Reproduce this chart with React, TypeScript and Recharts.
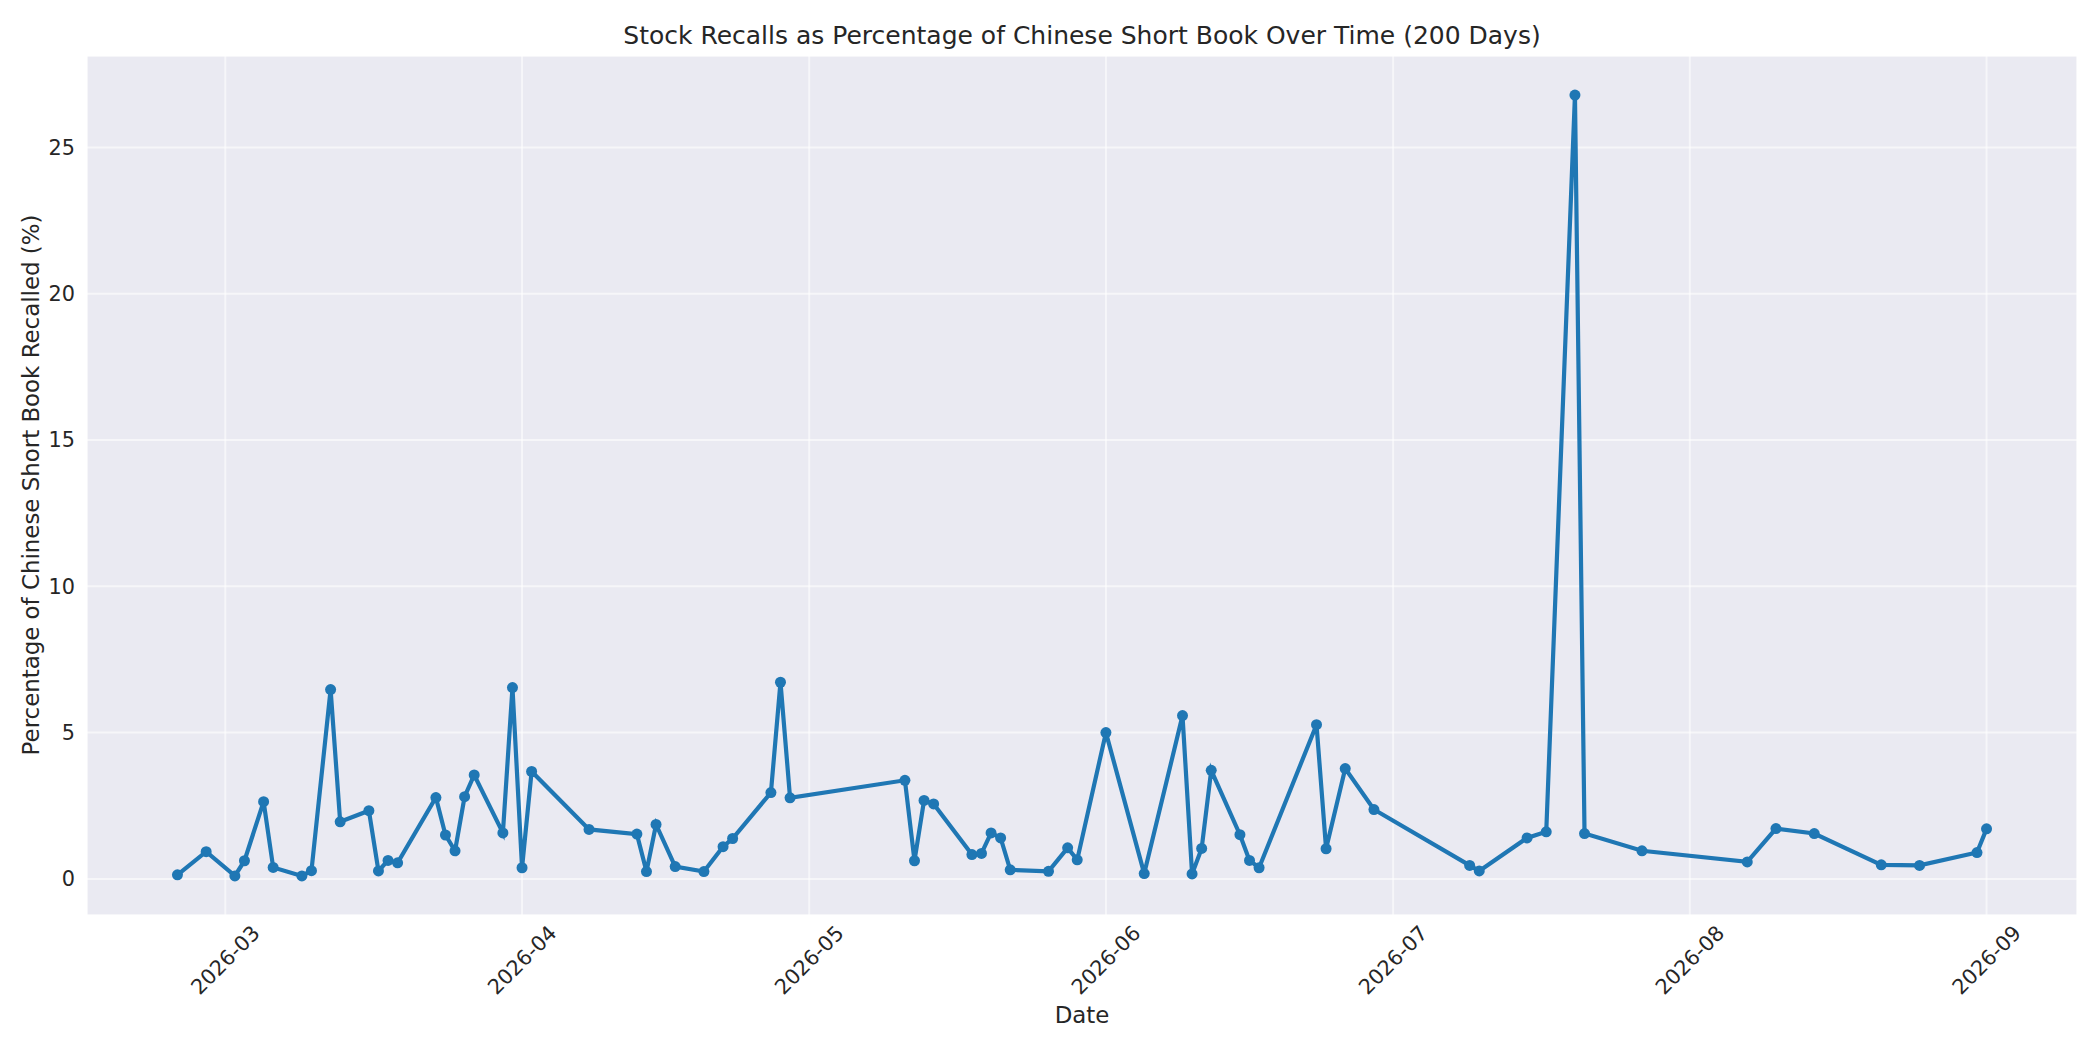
import React from 'react';
import { LineChart, Line, XAxis, YAxis, CartesianGrid } from 'recharts';

const dates = [
  '2026-02-24', '2026-02-27', '2026-03-02', '2026-03-03', '2026-03-05', '2026-03-06',
  '2026-03-09', '2026-03-10', '2026-03-12', '2026-03-13', '2026-03-16', '2026-03-17',
  '2026-03-18', '2026-03-19', '2026-03-23', '2026-03-24', '2026-03-25', '2026-03-26',
  '2026-03-27', '2026-03-30', '2026-03-31', '2026-04-01', '2026-04-02', '2026-04-08',
  '2026-04-13', '2026-04-14', '2026-04-15', '2026-04-17', '2026-04-20', '2026-04-22',
  '2026-04-23', '2026-04-27', '2026-04-28', '2026-04-29', '2026-05-11', '2026-05-12',
  '2026-05-13', '2026-05-14', '2026-05-18', '2026-05-19', '2026-05-20', '2026-05-21',
  '2026-05-22', '2026-05-26', '2026-05-28', '2026-05-29', '2026-06-01', '2026-06-05',
  '2026-06-09', '2026-06-10', '2026-06-11', '2026-06-12', '2026-06-15', '2026-06-16',
  '2026-06-17', '2026-06-23', '2026-06-24', '2026-06-26', '2026-06-29', '2026-07-09',
  '2026-07-10', '2026-07-15', '2026-07-17', '2026-07-20', '2026-07-21', '2026-07-27',
  '2026-08-07', '2026-08-10', '2026-08-14', '2026-08-21', '2026-08-25', '2026-08-31',
  '2026-09-01',
];

const recallPct = [
  0.14, 0.93, 0.10, 0.62, 2.64, 0.39,
  0.10, 0.28, 6.47, 1.95, 2.33, 0.27,
  0.63, 0.55, 2.78, 1.50, 0.96, 2.81,
  3.55, 1.57, 6.54, 0.38, 3.67, 1.69,
  1.53, 0.25, 1.86, 0.42, 0.25, 1.10,
  1.38, 2.95, 6.72, 2.77, 3.37, 0.62,
  2.68, 2.56, 0.83, 0.87, 1.57, 1.40,
  0.31, 0.26, 1.06, 0.65, 5.00, 0.18,
  5.58, 0.17, 1.04, 3.71, 1.51, 0.63,
  0.38, 5.27, 1.03, 3.77, 2.37, 0.46,
  0.27, 1.40, 1.61, 26.79, 1.55, 0.96,
  0.58, 1.72, 1.55, 0.48, 0.46, 0.90,
  1.71,
];

const monthTicks = [
  '2026-03-01', '2026-04-01', '2026-05-01', '2026-06-01',
  '2026-07-01', '2026-08-01', '2026-09-01',
];

const yTicks = [0, 5, 10, 15, 20, 25];

const toMs = (d: string) => Date.parse(d + 'T00:00:00Z');

const data = dates.map((d, i) => ({ t: toMs(d), v: recallPct[i] }));
const xTickValues = monthTicks.map(toMs);

const tMin = Math.min(...data.map((d) => d.t));
const tMax = Math.max(...data.map((d) => d.t));
const tPad = (tMax - tMin) * 0.05;
const vMin = Math.min(...recallPct);
const vMax = Math.max(...recallPct);
const vPad = (vMax - vMin) * 0.05;

const FONT = '"DejaVu Sans", sans-serif';
const TEXT = '#262626';

const fmtMonth = (ms: number) => {
  const d = new Date(ms);
  const m = d.getUTCMonth() + 1;
  return `${d.getUTCFullYear()}-${m < 10 ? '0' + m : m}`;
};

const XTick = (props: any) => {
  const { x, y, payload } = props;
  return (
    <g transform={`translate(${x},${y + 45}) rotate(-45)`}>
      <text x={0} y={0} dy="0.35em" textAnchor="middle" fill={TEXT} fontSize={20.8} fontFamily={FONT}>
        {fmtMonth(payload.value)}
      </text>
    </g>
  );
};

const YTick = (props: any) => {
  const { x, y, payload } = props;
  return (
    <text x={x} y={y} dy="0.36em" textAnchor="end" fill={TEXT} fontSize={20.8} fontFamily={FONT}>
      {payload.value}
    </text>
  );
};

export default function App() {
  return (
    <div style={{ position: 'absolute', left: 0, top: 0, width: 2100, height: 1050, background: '#fff', fontFamily: FONT }}>
      <LineChart
        width={2100}
        height={1050}
        data={data}
        margin={{ top: 56, right: 23, left: 27, bottom: 35 }}
      >
        <CartesianGrid fill="#EAEAF2" stroke="#ffffff" strokeOpacity={0.55} strokeWidth={2} />
        <XAxis
          dataKey="t"
          type="number"
          domain={[tMin - tPad, tMax + tPad]}
          ticks={xTickValues}
          allowDataOverflow
          axisLine={false}
          tickLine={false}
          tickSize={0}
          tickMargin={0}
          height={100}
          tick={<XTick />}
          interval={0}
        />
        <YAxis
          type="number"
          domain={[vMin - vPad, vMax + vPad]}
          ticks={yTicks}
          allowDataOverflow
          axisLine={false}
          tickLine={false}
          tickSize={0}
          tickMargin={12}
          width={60}
          tick={<YTick />}
          interval={0}
        />
        <Line
          type="linear"
          dataKey="v"
          stroke="#1f77b4"
          strokeWidth={4.2}
          dot={{ r: 5.5, fill: '#1f77b4', stroke: '#1f77b4', strokeWidth: 0 }}
          activeDot={false}
          isAnimationActive={false}
        />
      </LineChart>
      <div style={{ position: 'absolute', left: 87, width: 1990, top: 35, transform: 'translateY(-50%)', textAlign: 'center', fontSize: 25, color: TEXT, lineHeight: 1, whiteSpace: 'nowrap' }}>
        Stock Recalls as Percentage of Chinese Short Book Over Time (200 Days)
      </div>
      <div style={{ position: 'absolute', left: 87, width: 1990, top: 1015, transform: 'translateY(-50%)', textAlign: 'center', fontSize: 22.9, color: TEXT, lineHeight: 1 }}>
        Date
      </div>
      <div style={{ position: 'absolute', left: 31, top: 485, transform: 'translate(-50%, -50%) rotate(-90deg)', fontSize: 22.9, color: TEXT, lineHeight: 1, whiteSpace: 'nowrap' }}>
        Percentage of Chinese Short Book Recalled (%)
      </div>
    </div>
  );
}
